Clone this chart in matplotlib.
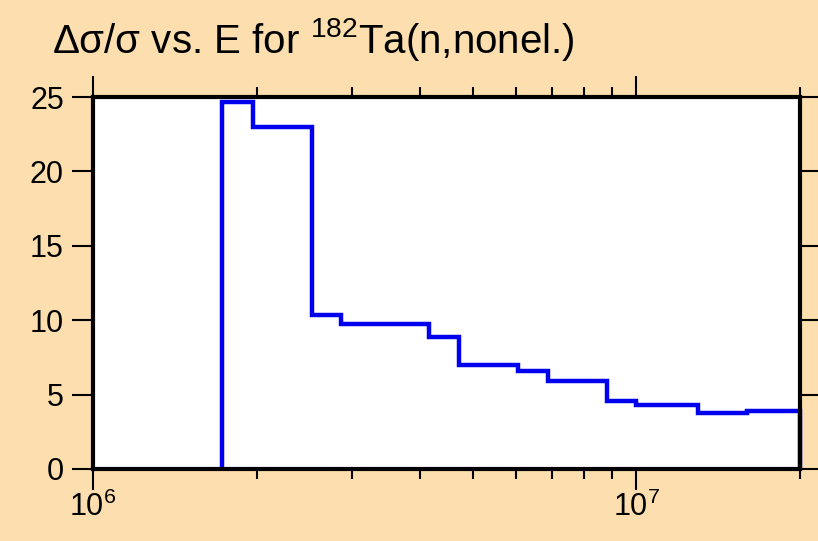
import matplotlib
matplotlib.use('Agg')
import matplotlib.pyplot as plt
from matplotlib.ticker import LogLocator, NullFormatter

plt.rcParams['font.family'] = ['Liberation Sans', 'DejaVu Sans']
plt.rcParams['mathtext.fontset'] = 'custom'
plt.rcParams['mathtext.rm'] = 'Liberation Sans'
plt.rcParams['mathtext.it'] = 'Liberation Sans'

# bin edges (eV) and relative uncertainty (%) per bin
edges = [1.727e6, 1.97e6, 2.53e6, 2.86e6, 4.15e6, 4.72e6, 6.05e6,
         6.88e6, 8.83e6, 1.0e7, 1.30e7, 1.60e7, 2.0e7]
values = [24.66, 22.98, 10.35, 9.75, 8.87, 6.99, 6.59,
          5.91, 4.57, 4.30, 3.76, 3.90]
yticks = [0, 5, 10, 15, 20, 25]

bg = '#FDDFAF'
fig = plt.figure(figsize=(8.18, 5.41), dpi=100, facecolor=bg)
ax = fig.add_axes([0.1137, 0.1331, 0.978 - 0.1137, 0.8207 - 0.1331])
ax.set_facecolor('white')

ax.stairs(values, edges, baseline=0, color='#0000EE', linewidth=3.2, clip_on=False)

ax.set_xscale('log')
ax.set_xlim(1e6, 2e7)
ax.set_ylim(0, 25)
ax.set_yticks(yticks)
ax.xaxis.set_major_locator(LogLocator(base=10))
ax.xaxis.set_minor_locator(LogLocator(base=10, subs=range(2, 10)))
ax.xaxis.set_minor_formatter(NullFormatter())

for s in ax.spines.values():
    s.set_linewidth(3)
ax.tick_params(which='both', direction='out', top=True, right=True,
               width=1.5, labelsize=22, colors='black')
ax.tick_params(which='major', length=15)
ax.tick_params(which='minor', length=7.5)
ax.tick_params(axis='x', which='major', pad=1)
ax.tick_params(axis='y', which='major', pad=6)

fig.text(0.063, 0.902, 'Δσ/σ vs. E for $^{182}$Ta(n,nonel.)', fontsize=29,
         ha='left', va='baseline')

fig.savefig('out.png', dpi=100, facecolor=bg)
